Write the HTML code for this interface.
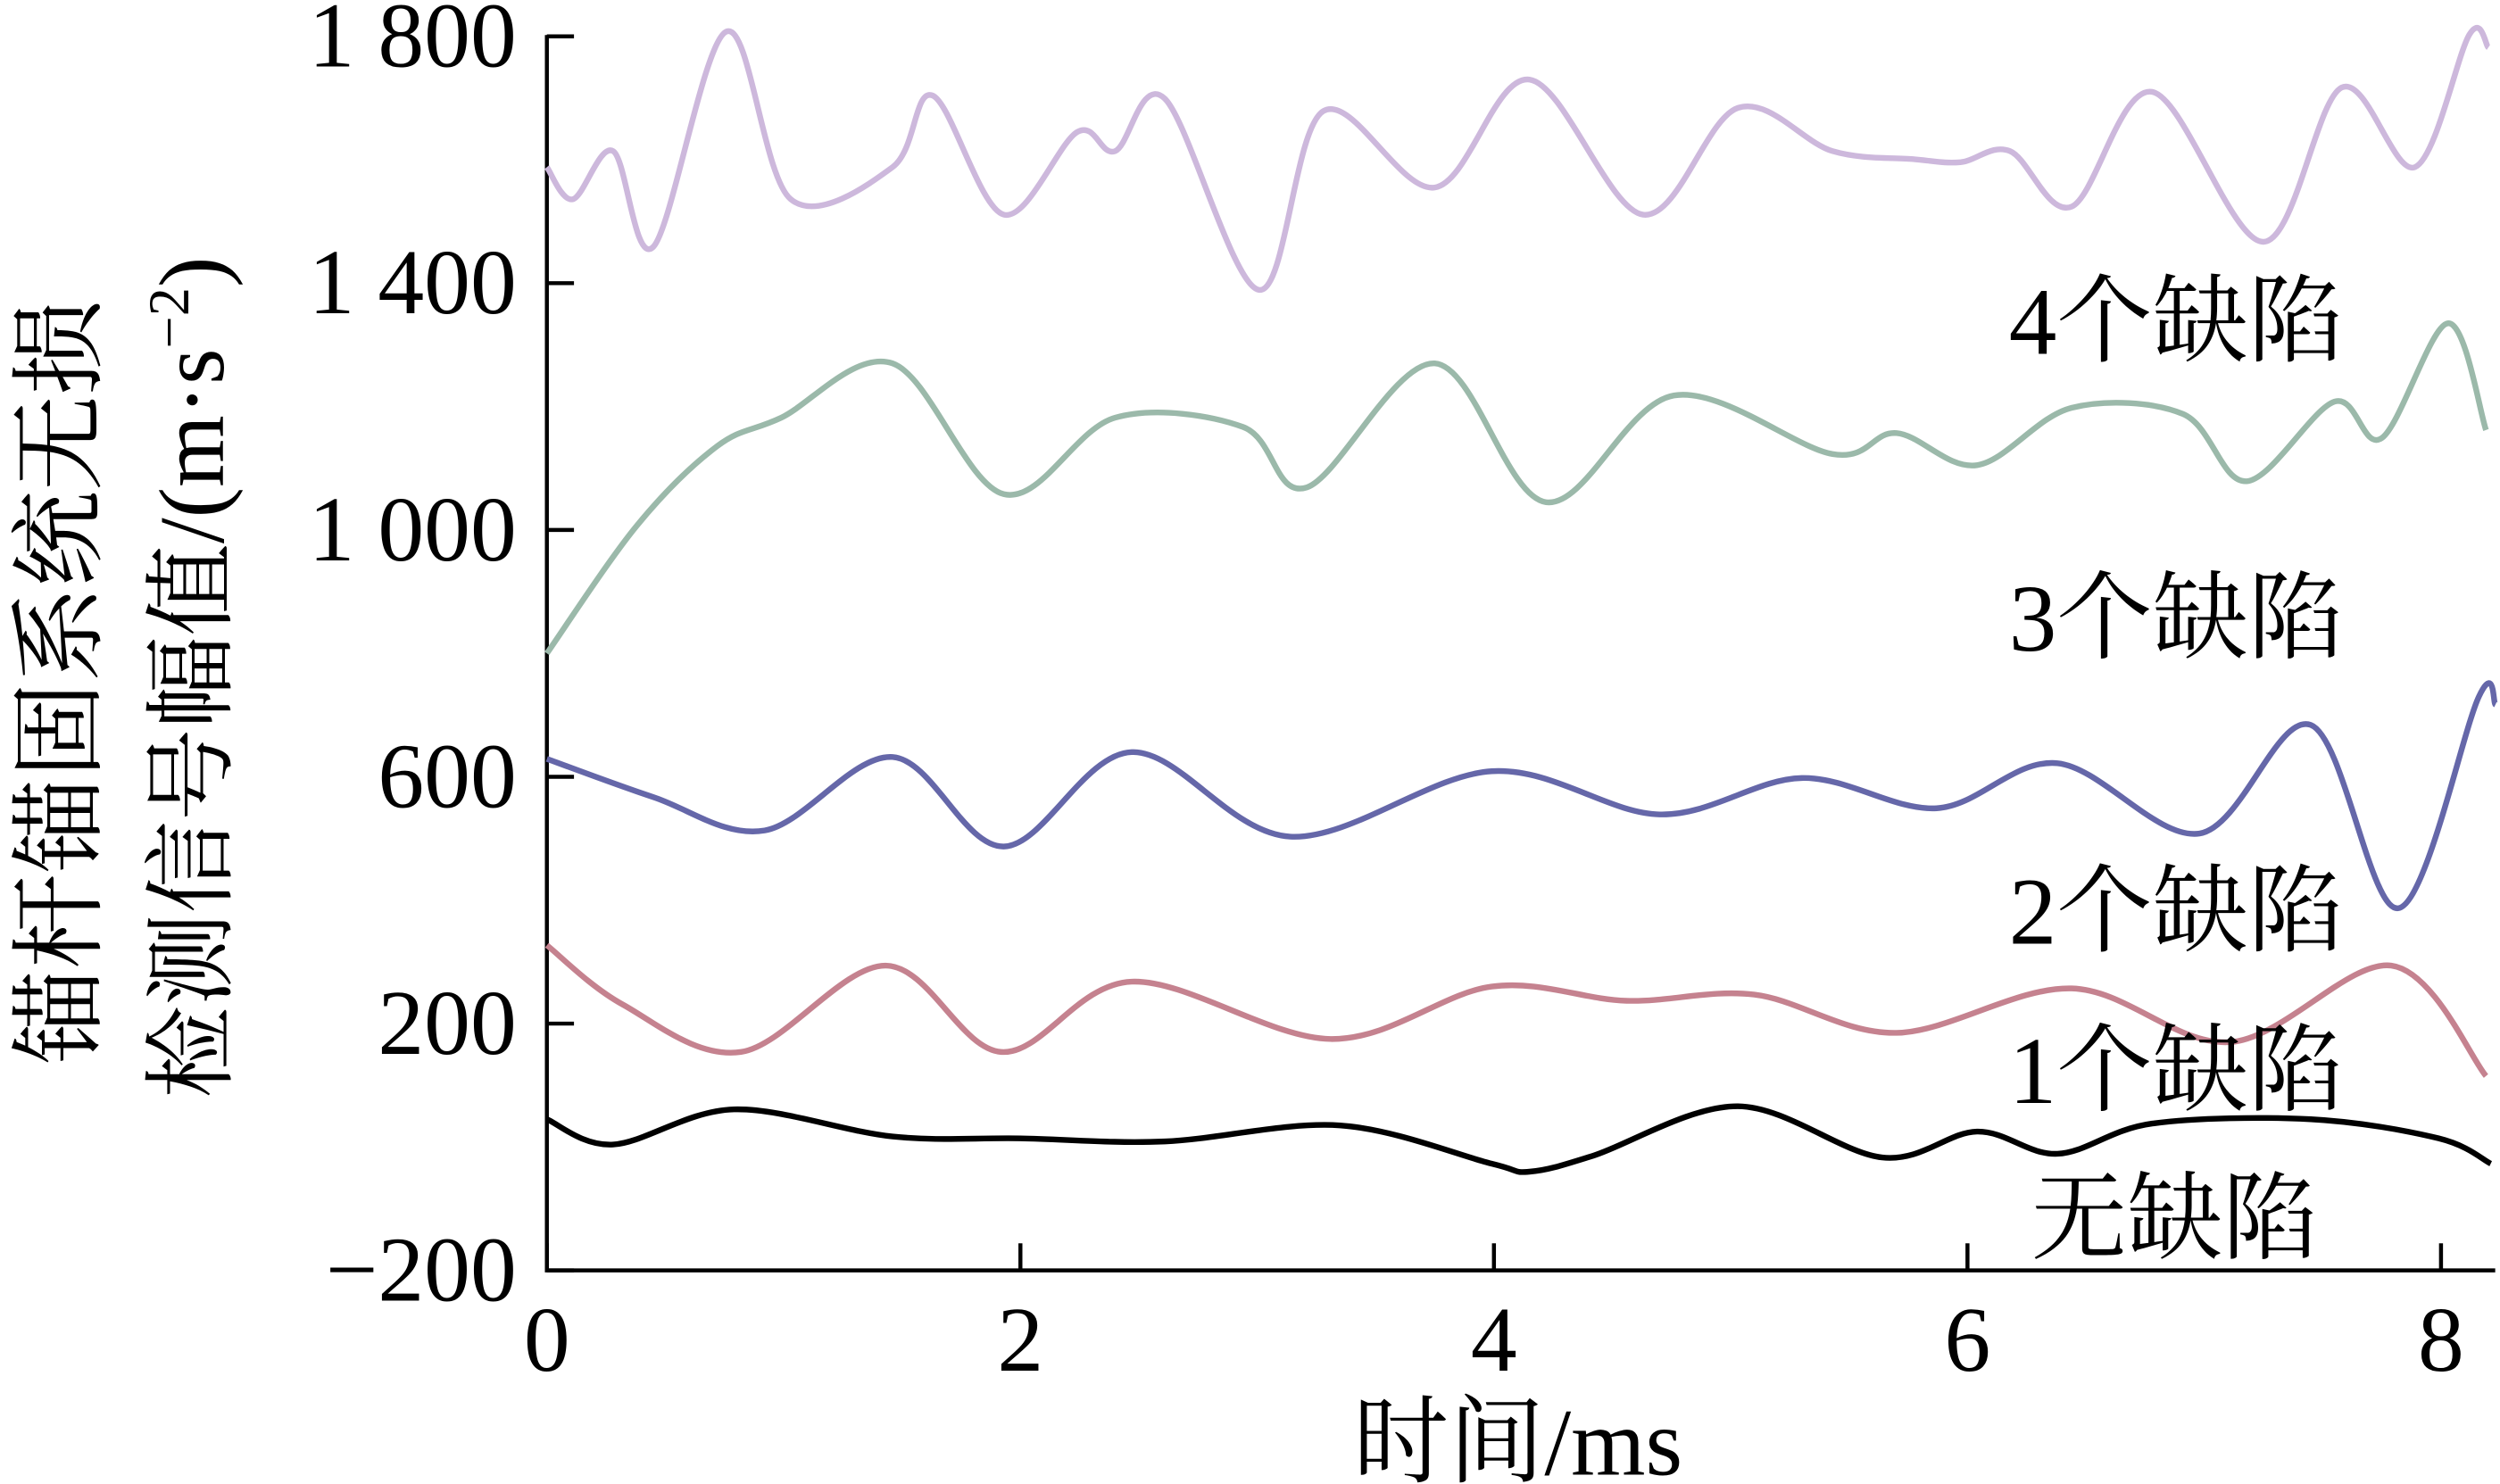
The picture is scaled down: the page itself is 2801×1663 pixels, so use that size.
<!DOCTYPE html>
<html><head><meta charset="utf-8"><style>
html,body{margin:0;padding:0;background:#fff;}
svg{display:block;}
text{font-family:"Liberation Serif","Noto Serif CJK SC","Noto Sans CJK SC",serif;fill:#000;}
</style></head><body>
<svg id="chart" width="2801" height="1663" viewBox="0 0 1568 931" preserveAspectRatio="none" xmlns="http://www.w3.org/2000/svg">
<g id="axes"></g>
<g id="series"></g>
<text x="1260" y="222" font-size="60">4个缺陷</text>
<text x="1260" y="408" font-size="60">3个缺陷</text>
<text x="1260" y="592" font-size="60">2个缺陷</text>
<text x="1260" y="692" font-size="60">1个缺陷</text>
<text x="1274" y="785" font-size="60">无缺陷</text>
<text x="952" y="925" font-size="60" text-anchor="middle">时间/ms</text>
<text transform="translate(58,428) rotate(-90)" font-size="60" text-anchor="middle">锚杆锚固系统无损</text>
<text transform="translate(140,425) rotate(-90)" font-size="58" text-anchor="middle">检测信号幅值/(m·s<tspan font-size="36" dy="-22">−2</tspan><tspan dy="22">)</tspan></text>
</svg>
<script>
const xTicks=[0,2,4,6,8];
const yTicks=[1800,1400,1000,600,200,-200];
const yTickLabels=["1 800","1 400","1 000","600","200","−200"];
const t0=[0,.28,.79,1.46,2,2.61,3.35,3.99,4.15,4.42,5.03,5.64,6.04,6.38,6.78,7.45,7.99,8.21];
const v0=[45,4,61,17,14,9,35,-27,-40,-14,66,-17,25,-11,38,45,14,-27];
const t1=[0,.32,.82,1.43,1.92,2.47,3.31,3.99,4.56,5.10,5.70,6.44,7.11,7.79,8.19];
const v1=[327,231,154,294,154,268,175,260,237,247,185,257,170,294,115];
const t2=[0,.45,.92,1.46,1.93,2.47,3.14,3.99,4.70,5.30,5.87,6.38,6.98,7.45,7.82,8.16,8.23];
const v2=[629,567,513,632,487,640,503,609,539,598,549,622,508,684,387,730,717];
const t3=[0,.38,.72,.99,1.46,1.93,2.40,2.94,3.21,3.75,4.22,4.76,5.43,5.70,6.04,6.44,6.91,7.18,7.55,7.75,8.03,8.19];
const v3=[800,1007,1136,1182,1270,1058,1182,1167,1069,1270,1045,1218,1123,1157,1105,1198,1188,1079,1208,1149,1335,1162];
const t4=[0,.11,.28,.45,.76,1.03,1.46,1.63,1.93,2.24,2.40,2.61,3.01,3.28,3.75,4.15,4.63,5.03,5.43,5.77,5.97,6.18,6.44,6.78,7.25,7.58,7.89,8.12,8.20];
const v4=[1588,1536,1614,1459,1808,1536,1588,1704,1511,1645,1614,1699,1389,1679,1555,1730,1511,1684,1614,1601,1596,1614,1524,1710,1467,1717,1588,1803,1782];
const NS="http://www.w3.org/2000/svg";
const X=t=>343+t*148.5;
const Y=v=>797-(v+200)*0.3871;
const axes=document.getElementById('axes');
function mk(tag,attrs,parent){const e=document.createElementNS(NS,tag);for(const k in attrs)e.setAttribute(k,attrs[k]);parent.appendChild(e);return e;}
let a=mk('path',{d:`M343,22 V797 H1565`,stroke:'#000','stroke-width':2.5,fill:'none'},axes);


xTicks.forEach(t=>{
 const l=mk('line',{x1:X(t),x2:X(t),y1:797,y2:780,stroke:'#000','stroke-width':2.5},axes);
 
 
 const tx=mk('text',{x:X(t),y:860,'font-size':58,'text-anchor':'middle'},axes);
 tx.textContent=t;
 
 
});
yTicks.forEach((v,i)=>{
 const l=mk('line',{x1:343,x2:360,y1:Y(v),y2:Y(v),stroke:'#000','stroke-width':2.5},axes);
 
 
 const tx=mk('text',{x:324,y:Y(v)+19,'font-size':58,'text-anchor':'end'},axes);
 tx.textContent=yTickLabels[i];
 
 
});
function pathFor(ts,vs){
 const p=ts.map((t,i)=>[X(t),Y(vs[i])]);
 let d=`M${p[0][0]},${p[0][1]}`;
 for(let i=0;i<p.length-1;i++){
  const p0=p[i-1]||p[i],p1=p[i],p2=p[i+1],p3=p[i+2]||p2;
  const c1=[p1[0]+(p2[0]-p0[0])/6,p1[1]+(p2[1]-p0[1])/6];
  const c2=[p2[0]-(p3[0]-p1[0])/6,p2[1]-(p3[1]-p1[1])/6];
  d+=` C${c1[0]},${c1[1]} ${c2[0]},${c2[1]} ${p2[0]},${p2[1]}`;
 }
 return d;
}
const sg=document.getElementById('series');
const defs=[[t4,v4,'#cdb8dc','series-4-defects'],[t3,v3,'#9bb9aa','series-3-defects'],[t2,v2,'#6567a9','series-2-defects'],[t1,v1,'#c5828f','series-1-defect'],[t0,v0,'#000000','series-no-defect']];
defs.forEach(s=>{
 const p=mk('path',{d:pathFor(s[0],s[1]),stroke:s[2],'stroke-width':3.6,fill:'none','stroke-linejoin':'round'},sg);
 
 
});
</script>
</body></html>
